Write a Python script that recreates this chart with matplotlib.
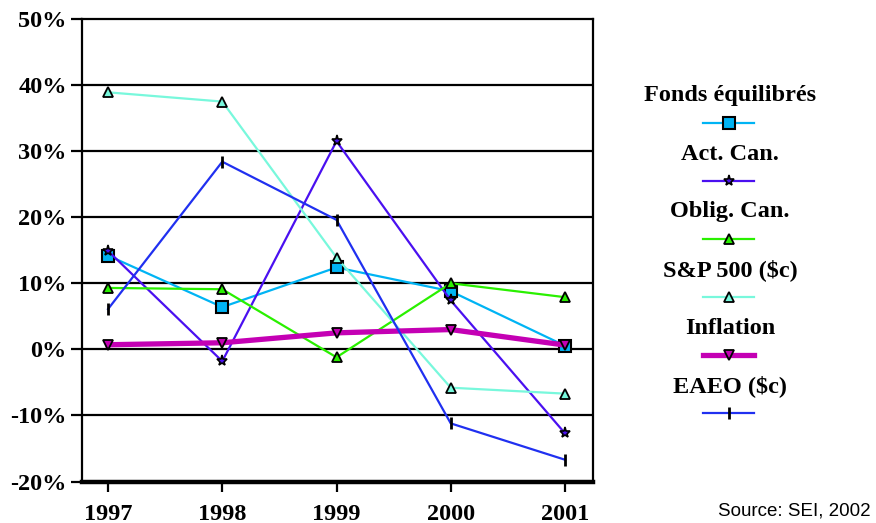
import matplotlib
matplotlib.use("Agg")
import matplotlib.pyplot as plt

# annual returns (%)
years = [1997, 1998, 1999, 2000, 2001]
fonds_equilibres = [14.2, 6.4, 12.4, 8.8, 0.55]
act_can = [14.9, -1.8, 31.5, 7.4, -12.7]
oblig_can = [9.3, 9.1, -1.2, 10.0, 7.9]
sp500 = [38.9, 37.5, 13.9, -5.8, -6.7]
inflation = [0.7, 1.0, 2.5, 3.0, 0.65]
eaeo = [6.1, 28.4, 19.6, -11.2, -16.7]

labels = ["Fonds équilibrés", "Act. Can.", "Oblig. Can.", "S&P 500 ($c)",
          "Inflation", "EAEO ($c)"]
yticks = [-20, -10, 0, 10, 20, 30, 40, 50]

# line style per series: colour, width, marker, marker size, marker face
styles = [
    dict(color="#00B4F4", lw=1.6, marker="s", ms=8.5, mfc="#00B4F4", mec="black", mew=1.5),
    dict(color="#4A10F0", lw=1.6, marker="*", ms=8, mfc="#4A10F0", mec="black", mew=1.2),
    dict(color="#2AF000", lw=1.6, marker="^", ms=7, mfc="#2AF000", mec="black", mew=1.3),
    dict(color="#78F8DC", lw=1.6, marker="^", ms=7, mfc="#78F8DC", mec="black", mew=1.3),
    dict(color="#C400B4", lw=3.8, marker="v", ms=7, mfc="#C400B4", mec="black", mew=1.3),
    dict(color="#2030F0", lw=1.6, marker="|", ms=9, mfc="black", mec="black", mew=2.0),
]
series = [fonds_equilibres, act_can, oblig_can, sp500, inflation, eaeo]

serif = ["Liberation Serif", "DejaVu Serif"]

fig = plt.figure(figsize=(8.76, 5.23), dpi=100)
ax = fig.add_axes([0.0936, 0.0793, 0.5833, 0.8844])

for vals, st in zip(series, styles):
    ax.plot(years, vals, **st)

ax.set_xlim(1996.772, 2001.245)
ax.set_ylim(-20, 50)
ax.set_yticks(yticks)
ax.set_yticklabels([f"{v}%" for v in yticks])
ax.set_xticks(years)
ax.set_xticklabels([str(y) for y in years])
for v in yticks[1:-1]:
    ax.axhline(v, color="black", lw=1.6, zorder=0)

for lab in ax.get_xticklabels() + ax.get_yticklabels():
    lab.set_fontfamily(serif)
    lab.set_fontweight("bold")
    lab.set_fontsize(17.5)
ax.tick_params(axis="y", length=8, width=1.6, pad=3, direction="out")
ax.tick_params(axis="x", length=7.5, width=1.6, pad=8.5, direction="out")

for side in ["left", "right", "top"]:
    ax.spines[side].set_linewidth(1.6)
ax.spines["bottom"].set_linewidth(3.2)

# legend: label above a short sample of each line
lax = fig.add_axes([0, 0, 1, 1])
lax.set_xlim(0, 876)
lax.set_ylim(523, 0)
lax.axis("off")
for i, (lab, st) in enumerate(zip(labels, styles)):
    ty = 96 + i * 58
    ly = ty + 27
    lax.text(730, ty, lab, ha="center", va="center", fontsize=17.5,
             fontweight="bold", family=serif)
    lax.plot([703, 754], [ly, ly], color=st["color"], lw=st["lw"])
    lax.plot([728.5], [ly], linestyle="none",
             **{k: v for k, v in st.items() if k not in ("color", "lw")})

fig.text(0.994, 0.006, "Source: SEI, 2002", ha="right", va="bottom",
         fontsize=13.5, family=["Liberation Sans", "DejaVu Sans"])

fig.savefig("out.png", dpi=100)
